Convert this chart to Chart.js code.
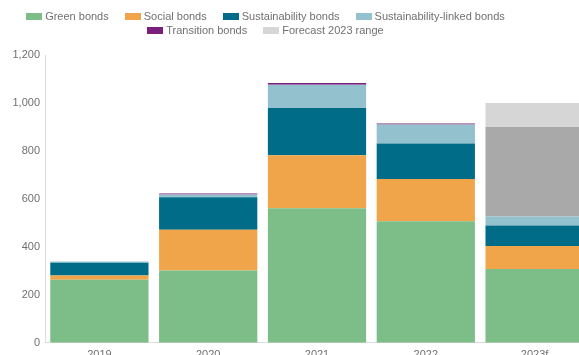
<!DOCTYPE html>
<html>
<head>
<meta charset="utf-8">
<script src="https://cdn.jsdelivr.net/npm/chart.js@4"></script>
<style>
  body { margin: 0; overflow: hidden; background: #fff; font-family: "Liberation Sans", Arial, sans-serif; }
  #wrap { position: absolute; left: 0; top: 0; width: 589px; height: 368px; }
  #legend { position: absolute; left: 0; top: 9px; width: 531px; text-align: center; font-size: 11px; line-height: 14px; color: #707070; }
  #legend span.item { display: inline-block; margin: 0 8px; white-space: nowrap; }
  #legend span.box { display: inline-block; width: 16px; height: 7px; margin-right: 3px; vertical-align: 0px; }
</style>
</head>
<body>
<div id="wrap"><canvas id="issuanceChart"></canvas></div>
<div id="legend"></div>
<script>
const years = ["2019", "2020", "2021", "2022", "2023f"];
const greenBonds = [263, 301, 561, 507, 308];
const socialBonds = [18, 170, 221, 176, 96];
const sustainabilityBonds = [53, 136, 197, 148, 85];
const linkedBonds = [5, 11, 97, 79, 38];
const transitionBonds = [null, 4, 7, 4, null];
const forecastLow = [null, null, null, null, 373];
const forecastRange = [null, null, null, null, 100];
const yTicks = [0, 200, 400, 600, 800, 1000, 1200];

const datasets = [
    { label: "Green bonds", data: greenBonds, backgroundColor: "#7dbe88" },
    { label: "Social bonds", data: socialBonds, backgroundColor: "#f0a54a" },
    { label: "Sustainability bonds", data: sustainabilityBonds, backgroundColor: "#006c88" },
    { label: "Sustainability-linked bonds", data: linkedBonds, backgroundColor: "#93c1ce" },
    { label: "Transition bonds", data: transitionBonds, backgroundColor: "#7b1f7f" },
    { label: "Forecast 2023 low", data: forecastLow, backgroundColor: "#a9a9a9", hideInLegend: true },
    { label: "Forecast 2023 range", data: forecastRange, backgroundColor: "#d6d6d6" },
];

// legend drawn in html so the rows can be spaced tighter than chart.js allows
const legendEl = document.getElementById("legend");
datasets.forEach((ds) => {
    if (ds.hideInLegend) return;
    const item = document.createElement("span");
    item.className = "item";
    item.innerHTML = '<span class="box" style="background:' + ds.backgroundColor + '"></span>' + ds.label;
    legendEl.appendChild(item);
});

const ctx = document.getElementById("issuanceChart").getContext("2d");
const issuanceChart = new Chart(ctx, {
    type: "bar",
    data: {
        labels: years,
        datasets: datasets.map((ds) => ({
            label: ds.label,
            data: ds.data,
            backgroundColor: ds.backgroundColor,
            borderWidth: 0,
            categoryPercentage: 1,
            barPercentage: 0.903,
        })),
    },
    options: {
        responsive: true,
        maintainAspectRatio: false,
        animation: false,
        layout: { padding: { top: 55, right: 0, bottom: 0, left: 0 } },
        plugins: {
            legend: { display: false },
            tooltip: { enabled: false },
        },
        scales: {
            x: {
                stacked: true,
                grid: { display: false, drawTicks: false },
                border: { color: "#dcdcdc" },
                ticks: { color: "#707070", padding: 6, font: { size: 11, family: "'Liberation Sans', Arial, sans-serif" } },
            },
            y: {
                stacked: true,
                min: 0,
                max: 1200,
                afterFit: (scale) => { scale.width = 45; },
                afterBuildTicks: (scale) => { scale.ticks = yTicks.map((v) => ({ value: v })); },
                grid: { display: false, drawTicks: false },
                border: { color: "#dcdcdc" },
                ticks: { color: "#707070", padding: 5, font: { size: 11, family: "'Liberation Sans', Arial, sans-serif" } },
            },
        },
    },
});
</script>
</body>
</html>
